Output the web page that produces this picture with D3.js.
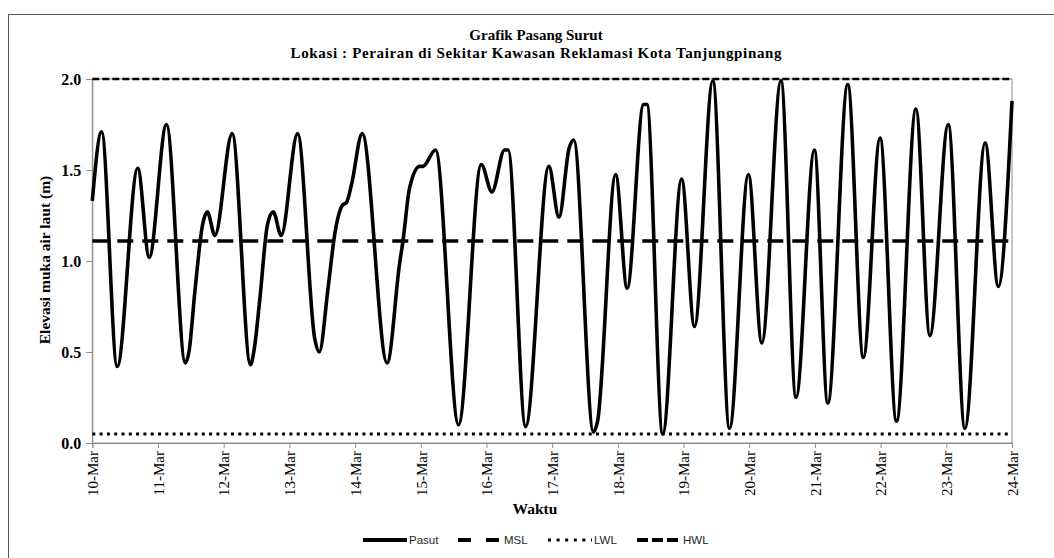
<!DOCTYPE html>
<html>
<head>
<meta charset="utf-8">
<script src="https://cdn.jsdelivr.net/npm/d3@7"></script>
<style>
  html, body { margin: 0; padding: 0; background: #fff; }
  svg { display: block; }
</style>
</head>
<body>
<svg id="chart" width="1054" height="558"></svg>
<script>
// ---- DATA ----
// time in hours since 10-Mar 00:00, water elevation in metres
const pasutHour = [
  0.0, 3.4, 9.1, 16.6, 20.8, 27.1, 34.0, 35.4, 37.4, 40.3, 42.0, 44.8,
  51.1, 57.8, 59.1, 61.2, 64.0, 66.1, 69.0, 75.0, 81.3, 82.9, 86.2, 88.6,
  91.6, 92.8, 94.7, 98.6, 107.7, 112.3, 113.5, 115.9, 119.6, 120.8, 125.4, 133.8,
  142.1, 146.0, 150.6, 151.9, 158.3, 166.8, 170.5, 174.2, 175.9, 183.1, 184.6, 191.2,
  195.4, 201.4, 202.6, 208.4, 215.3, 220.0, 226.7, 232.8, 239.7, 244.6, 251.6, 257.1,
  263.8, 268.7, 276.0, 281.7, 287.8, 293.8, 300.9, 306.0, 312.7, 318.8, 326.2, 331.0,
  336.0
];
const pasutValue = [
  1.33, 1.71, 0.42, 1.51, 1.02, 1.75, 0.44, 0.51, 0.82, 1.20, 1.27, 1.14,
  1.70, 0.43, 0.51, 0.79, 1.20, 1.27, 1.14, 1.70, 0.57, 0.50, 0.86, 1.15,
  1.31, 1.32, 1.42, 1.70, 0.44, 0.99, 1.11, 1.40, 1.52, 1.52, 1.61, 0.10,
  1.53, 1.38, 1.61, 1.61, 0.09, 1.52, 1.24, 1.62, 1.665, 0.06, 0.12, 1.475,
  0.85, 1.86, 1.86, 0.05, 1.45, 0.64, 1.99, 0.08, 1.475, 0.55, 1.99, 0.25,
  1.61, 0.22, 1.97, 0.47, 1.675, 0.12, 1.835, 0.59, 1.75, 0.08, 1.65, 0.86,
  1.88
];
const dayLabels = ["10-Mar","11-Mar","12-Mar","13-Mar","14-Mar","15-Mar","16-Mar",
                   "17-Mar","18-Mar","19-Mar","20-Mar","21-Mar","22-Mar","23-Mar","24-Mar"];
const yTicks = [0.0, 0.5, 1.0, 1.5, 2.0];
const levelNames = ["MSL", "LWL", "HWL"];
const levelValues = [1.11, 0.05, 2.0];
const legendNames = ["Pasut", "MSL", "LWL", "HWL"];
const titleLines = ["Grafik Pasang Surut",
                    "Lokasi : Perairan di Sekitar Kawasan Reklamasi Kota Tanjungpinang"];

// ---- LAYOUT ----
const svg = d3.select("#chart");
const L = 92.3, R = 1012, T = 79, B = 443;
const serif = "'Liberation Serif', 'Times New Roman', serif";
const sans = "'Liberation Sans', Arial, sans-serif";

const x = d3.scaleLinear().domain([0, 24 * (dayLabels.length - 1)]).range([L, R]);
const y = d3.scaleLinear().domain([0, 2]).range([B, T]);

// outer chart frame (only top and left edges visible)
svg.append("rect").attr("x", 8.5).attr("y", 14.5).attr("width", 1200).attr("height", 700)
  .attr("fill", "none").attr("stroke", "#595959").attr("stroke-width", 1);

// plot area border
svg.append("rect").attr("x", L).attr("y", T).attr("width", R - L).attr("height", B - T)
  .attr("fill", "none").attr("stroke", "#8c8c8c").attr("stroke-width", 1);

// title
const titleWidths = [null, 491];
svg.append("g").selectAll("text").data(titleLines).join("text")
  .attr("x", 536).attr("y", (d, i) => 40 + i * 18)
  .attr("text-anchor", "middle")
  .attr("font-family", serif).attr("font-weight", "bold").attr("font-size", 15)
  .attr("fill", "#000")
  .each(function (d, i) {
    if (titleWidths[i]) d3.select(this).attr("textLength", titleWidths[i]).attr("lengthAdjust", "spacing");
  })
  .text(d => d);

// y axis
const yAxis = svg.append("g").attr("transform", `translate(${L},0)`)
  .call(d3.axisLeft(y).tickValues(yTicks).tickFormat(d3.format(".1f")).tickSize(6).tickPadding(5));
yAxis.select(".domain").attr("stroke", "#8c8c8c");
yAxis.selectAll(".tick line").attr("stroke", "#8c8c8c");
yAxis.selectAll("text").attr("font-family", serif).attr("font-weight", "bold")
  .attr("font-size", 16).attr("fill", "#000");

// x axis
const xTickVals = dayLabels.map((d, i) => i * 24);
const xAxis = svg.append("g").attr("transform", `translate(0,${B})`)
  .call(d3.axisBottom(x).tickValues(xTickVals).tickFormat((d, i) => dayLabels[i]).tickSize(5).tickPadding(8));
xAxis.select(".domain").attr("stroke", "#8c8c8c");
xAxis.selectAll(".tick line").attr("stroke", "#8c8c8c");
xAxis.selectAll("text")
  .attr("font-family", serif).attr("font-size", 15).attr("fill", "#000")
  .attr("text-anchor", "end")
  .attr("transform", "rotate(-90)")
  .attr("x", -8).attr("y", 0).attr("dy", "0.35em");

// axis titles
svg.append("text").attr("x", 535).attr("y", 514).attr("text-anchor", "middle")
  .attr("font-family", serif).attr("font-weight", "bold").attr("font-size", 15.5)
  .text("Waktu");
svg.append("text").attr("transform", "translate(50,260) rotate(-90)").attr("text-anchor", "middle")
  .attr("font-family", serif).attr("font-weight", "bold").attr("font-size", 15.5)
  .text("Elevasi muka air laut (m)");

// level line styles
const levelStyle = {
  MSL: { w: 3.5, dash: "16,9" },
  LWL: { w: 3, dash: "3,4.3" },
  HWL: { w: 2.5, dash: "7,3" }
};
levelNames.forEach((n, i) => {
  svg.append("line")
    .attr("x1", L).attr("x2", R)
    .attr("y1", y(levelValues[i])).attr("y2", y(levelValues[i]))
    .attr("stroke", "#000").attr("stroke-width", levelStyle[n].w)
    .attr("stroke-dasharray", levelStyle[n].dash);
});

// tide curve
const pts = pasutHour.map((h, i) => [h, pasutValue[i]]);
const line = d3.line().x(d => x(d[0])).y(d => y(d[1])).curve(d3.curveMonotoneX);
svg.append("path").datum(pts).attr("d", line)
  .attr("fill", "none").attr("stroke", "#000").attr("stroke-width", 3.6)
  .attr("stroke-linejoin", "round");

// legend
const legendX = [363, 458, 548, 637];
const legendSample = {
  Pasut: { w: 4, dash: null },
  MSL: { w: 4, dash: "13,15" },
  LWL: { w: 3, dash: "3,5.6" },
  HWL: { w: 4, dash: "11,4" }
};
const lg = svg.append("g");
legendNames.forEach((n, i) => {
  const x0 = legendX[i];
  lg.append("line").attr("x1", x0).attr("x2", x0 + 44).attr("y1", 540).attr("y2", 540)
    .attr("stroke", "#000").attr("stroke-width", legendSample[n].w)
    .attr("stroke-dasharray", legendSample[n].dash);
  lg.append("text").attr("x", x0 + 46).attr("y", 544)
    .attr("font-family", sans).attr("font-size", 11.5).attr("fill", "#262626")
    .text(n);
});
</script>
</body>
</html>
